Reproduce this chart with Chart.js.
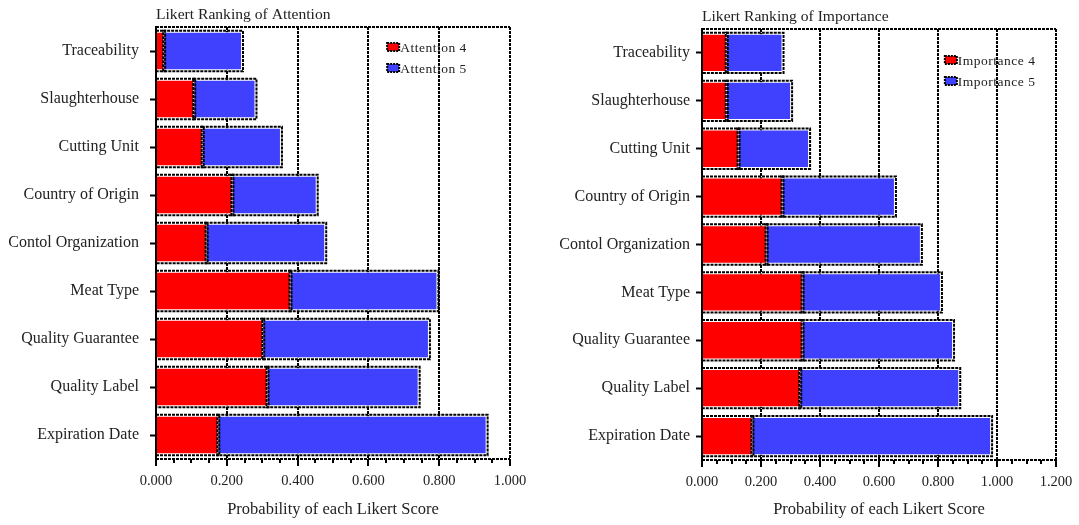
<!DOCTYPE html>
<html>
<head>
<meta charset="utf-8">
<script src="https://cdn.jsdelivr.net/npm/chart.js@4.4.1/dist/chart.umd.min.js"></script>
<style>
    body { margin: 0; background: #fff; }
    #wrap { position: relative; width: 1079px; height: 525px; }
    canvas { position: absolute; top: 0; }
</style>
</head>
<body>
<div id="wrap">
    <canvas id="attentionChart" width="540" height="525" style="left:0"></canvas>
    <canvas id="importanceChart" width="539" height="525" style="left:540px"></canvas>
</div>
<script>
var attributes = ['Traceability', 'Slaughterhouse', 'Cutting Unit', 'Country of Origin', 'Contol Organization',
    'Meat Type', 'Quality Guarantee', 'Quality Label', 'Expiration Date'];

var attention4 = [0.023, 0.108, 0.132, 0.216, 0.143, 0.380, 0.303, 0.315, 0.176];
var attention5 = [0.220, 0.173, 0.221, 0.238, 0.335, 0.415, 0.468, 0.427, 0.758];

var importance4 = [0.084, 0.084, 0.124, 0.273, 0.219, 0.341, 0.341, 0.333, 0.171];
var importance5 = [0.189, 0.218, 0.239, 0.381, 0.523, 0.469, 0.510, 0.539, 0.809];

var xTickStep = 0.2;
var xMinorStep = 0.05;

var serif = '"Liberation Serif", "Times New Roman", serif';
var red = '#ff0000';
var blue = '#4040ff';

// dotted black outline round every bar segment, frame lines, minor ticks, title and legend
var chartDecor = {
    id: 'chartDecor',
    beforeDatasetsDraw: function (chart, args, opts) {
        var ctx = chart.ctx;
        var area = chart.chartArea;
        ctx.save();
        ctx.strokeStyle = '#000';
        ctx.lineWidth = 2;
        ctx.setLineDash([3, 1]);
        ctx.beginPath();
        ctx.moveTo(area.left, area.top);
        ctx.lineTo(area.right, area.top);
        ctx.moveTo(area.left, area.bottom);
        ctx.lineTo(area.right, area.bottom);
        ctx.stroke();

        // minor ticks under the x axis
        var xScale = chart.scales.x;
        ctx.setLineDash([]);
        ctx.beginPath();
        for (var i = 1; i * xMinorStep < xScale.max; i++) {
            if (i % 4 === 0) continue;
            var px = Math.round(xScale.getPixelForValue(i * xMinorStep));
            ctx.moveTo(px, area.bottom);
            ctx.lineTo(px, area.bottom + 4);
        }
        ctx.stroke();
        ctx.restore();
    },
    afterDatasetsDraw: function (chart, args, opts) {
        var ctx = chart.ctx;
        var area = chart.chartArea;
        ctx.save();
        ctx.strokeStyle = '#000';
        ctx.lineWidth = 2;
        ctx.setLineDash([3, 1]);
        chart.data.datasets.forEach(function (ds, di) {
            chart.getDatasetMeta(di).data.forEach(function (bar) {
                var p = bar.getProps(['x', 'y', 'base', 'height'], true);
                var left = Math.min(p.x, p.base);
                var right = Math.max(p.x, p.base);
                ctx.strokeRect(left - 1, p.y - p.height / 2 - 1, right - left + 2, p.height + 2);
            });
        });
        ctx.restore();

        // title above the plot
        ctx.save();
        ctx.fillStyle = '#222';
        ctx.font = '15.6px ' + serif;
        ctx.textBaseline = 'alphabetic';
        ctx.textAlign = 'left';
        ctx.fillText(opts.title, area.left, area.top - 8);

        // legend inside the plot
        var lx = area.left + opts.legendX * (area.right - area.left);
        var ly = area.top + opts.legendY;
        ctx.font = '13.5px ' + serif;
        ctx.letterSpacing = '0.5px';
        ctx.textBaseline = 'middle';
        chart.data.datasets.forEach(function (ds, di) {
            var y = ly + di * 21;
            ctx.fillStyle = ds.backgroundColor;
            ctx.fillRect(lx, y - 4, 12, 8);
            ctx.strokeStyle = '#000';
            ctx.lineWidth = 2;
            ctx.setLineDash([2, 1]);
            ctx.strokeRect(lx, y - 4, 12, 8);
            ctx.fillStyle = '#222';
            ctx.fillText(ds.label, lx + 13, y + 1);
        });
        ctx.restore();
    }
};

var buildChart = function (canvasId, labels, low, high, names, xMax, yWidth, yPad, pad, title, legendX, legendY) {
    return new Chart(canvasId, {
        type: 'bar',
        data: {
            labels: labels,
            datasets: [{
                label: names[0],
                data: low,
                backgroundColor: red,
                borderColor: '#fff',
                borderWidth: 1
            }, {
                label: names[1],
                data: high,
                backgroundColor: blue,
                borderColor: '#fff',
                borderWidth: 1
            }]
        },
        options: {
            indexAxis: 'y',
            responsive: false,
            animation: false,
            categoryPercentage: 0.8,
            barPercentage: 1,
            layout: { padding: { top: pad.top, right: pad.right, bottom: 0, left: 0 } },
            scales: {
                x: {
                    stacked: true,
                    min: 0,
                    max: xMax,
                    afterFit: function (scale) { scale.height = pad.bottom; },
                    ticks: {
                        stepSize: xTickStep,
                        padding: 6,
                        color: '#222',
                        font: { family: serif, size: 14.5 },
                        maxRotation: 0,
                        callback: function (v) { return Number(v).toFixed(3); }
                    },
                    grid: {
                        color: '#000',
                        lineWidth: 2,
                        tickColor: '#000',
                        tickWidth: 2,
                        tickLength: 7,
                        tickBorderDash: []
                    },
                    border: { display: false, dash: [3, 1] },
                    title: {
                        display: true,
                        text: 'Probability of each Likert Score',
                        color: '#222',
                        font: { family: serif, size: 16.5 },
                        padding: { top: 0, bottom: 5 }
                    }
                },
                y: {
                    stacked: true,
                    afterFit: function (scale) { scale.width = yWidth; },
                    ticks: {
                        padding: yPad,
                        color: '#222',
                        font: { family: serif, size: 16 }
                    },
                    grid: {
                        offset: false,
                        drawOnChartArea: false,
                        tickColor: '#000',
                        tickWidth: 2,
                        tickLength: 6
                    },
                    border: { display: true, color: '#000', width: 2 }
                }
            },
            plugins: {
                legend: { display: false },
                tooltip: { enabled: false },
                chartDecor: { title: title, legendX: legendX, legendY: legendY }
            }
        },
        plugins: [chartDecor]
    });
}

buildChart('attentionChart', attributes, attention4, attention5, ['Attention 4', 'Attention 5'],
    1.0, 156, 11, { top: 27, right: 30, bottom: 66 }, 'Likert Ranking of Attention', 0.653, 20);

buildChart('importanceChart', attributes, importance4, importance5, ['Importance 4', 'Importance 5'],
    1.2, 162, 6, { top: 29, right: 23, bottom: 65 }, 'Likert Ranking of Importance', 0.686, 31);
</script>
</body>
</html>
